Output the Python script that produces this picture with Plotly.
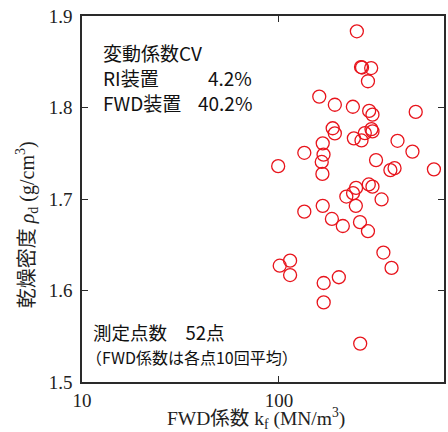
import plotly.graph_objects as go

# FWD coefficient k_f (MN/m^3) and dry density rho_d (g/cm^3), 52 points
fwd_coef = [248.6, 261.0, 293.9, 283.1, 160.2, 192.2, 237.3, 287.1, 298.4, 494.8,
            187.4, 192.2, 272.9, 298.4, 240.1, 262.5, 399.9, 166.8, 134.5, 168.4,
            476.2, 311.1, 164.9, 99.1, 367.9, 386.3, 612.2, 166.2, 285.8, 298.4,
            246.3, 237.8, 219.8, 332.0, 245.7, 166.8, 134.5, 185.7, 211.0, 257.9,
            283.1, 339.1, 373.0, 100.9, 113.9, 113.9, 201.4, 168.7, 168.7, 258.5,
            294.9, 264.1]
dry_density = [1.8833, 1.8442, 1.8431, 1.8287, 1.8119, 1.8030, 1.8008, 1.7963, 1.7922, 1.7952,
               1.7773, 1.7717, 1.7720, 1.7739, 1.7663, 1.7640, 1.7636, 1.7608, 1.7505, 1.7485,
               1.7518, 1.7425, 1.7405, 1.7359, 1.7316, 1.7337, 1.7324, 1.7274, 1.7159, 1.7135,
               1.7121, 1.7064, 1.7027, 1.6995, 1.6925, 1.6925, 1.6862, 1.6782, 1.6705, 1.6747,
               1.6648, 1.6415, 1.6247, 1.6271, 1.6326, 1.6169, 1.6145, 1.6082, 1.5870, 1.5420,
               1.7764, 1.8437]

y_ticks = [1.5, 1.6, 1.7, 1.8, 1.9]
x_ticks = [10, 100]

SERIF = "Liberation Serif, Noto Sans CJK JP"
GOTHIC = "Noto Sans CJK JP, Liberation Sans"
AXIS_COLOR = "#2a2a2a"

fig = go.Figure()
fig.add_trace(go.Scatter(
    x=fwd_coef, y=dry_density, mode="markers",
    marker=dict(symbol="circle-open", size=13, color="#e8141c",
                line=dict(width=1.3, color="#e8141c")),
    showlegend=False, hoverinfo="skip",
))

fig.update_layout(
    width=448, height=432,
    margin=dict(l=82, r=2, t=16, b=50),
    paper_bgcolor="white", plot_bgcolor="white",
    font=dict(family=SERIF, size=19, color="#222"),
    xaxis=dict(type="log", range=[1, 2.838], tickvals=x_ticks,
               ticktext=[str(v) for v in x_ticks],
               showgrid=False, zeroline=False, showline=True, linecolor=AXIS_COLOR,
               linewidth=1.5, mirror="ticks", ticks="inside", ticklen=6,
               tickcolor=AXIS_COLOR, tickwidth=1.2, ticklabelstandoff=0,
               tickfont=dict(family=SERIF, size=19, color="#222")),
    yaxis=dict(range=[1.5, 1.9], tickvals=y_ticks,
               ticktext=[f"{v:.1f}" for v in y_ticks],
               showgrid=False, zeroline=False, showline=True, linecolor=AXIS_COLOR,
               linewidth=1.5, mirror="ticks", ticks="inside", ticklen=6,
               tickcolor=AXIS_COLOR, tickwidth=1.2, ticklabelstandoff=4,
               tickfont=dict(family=SERIF, size=19, color="#222")),
)

anns = [
    dict(text="FWD係数 k<sub>f</sub> (MN/m<sup>3</sup>)", x=257, y=418,
         font=dict(family=SERIF, size=19.5, color="#222")),
    dict(text="乾燥密度 <i>ρ</i><sub>d</sub> (g/cm<sup>3</sup>)", x=27, y=225,
         textangle=-90, font=dict(family=SERIF, size=20, color="#222")),
    dict(text="変動係数CV", x=101, y=52, xanchor="left",
         font=dict(family=GOTHIC, size=19, color="#111")),
    dict(text="RI装置", x=101, y=78, xanchor="left",
         font=dict(family=GOTHIC, size=19, color="#111")),
    dict(text="4.2%", x=255, y=78, xanchor="right",
         font=dict(family=GOTHIC, size=19, color="#111")),
    dict(text="FWD装置", x=101, y=103, xanchor="left",
         font=dict(family=GOTHIC, size=19, color="#111")),
    dict(text="40.2%", x=255, y=103, xanchor="right",
         font=dict(family=GOTHIC, size=19, color="#111")),
    dict(text="測定点数　52点", x=91, y=332, xanchor="left",
         font=dict(family=GOTHIC, size=18.5, color="#111")),
    dict(text="（FWD係数は各点10回平均）", x=84, y=357, xanchor="left",
         font=dict(family=GOTHIC, size=16, color="#111")),
]
for a in anns:
    a.update(xref="paper", yref="paper", showarrow=False)
    a.setdefault("xanchor", "center")
    a["yanchor"] = "middle"
    # convert pixel position to paper coordinates
    a["x"] = (a["x"] - 82) / (448 - 82 - 2)
    a["y"] = 1 - (a["y"] - 16) / (432 - 16 - 50)
    fig.add_annotation(**a)

fig.write_html("out.html")
